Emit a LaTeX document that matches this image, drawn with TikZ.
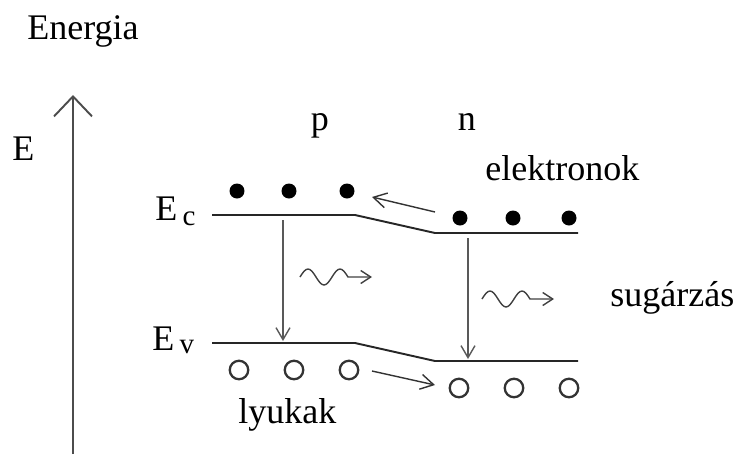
\documentclass[tikz,border=0pt]{standalone}
\usepackage{fontspec}
\setmainfont{Liberation Serif}
\usetikzlibrary{positioning,arrows.meta}

\tikzset{
  level/.style={line width=1.1pt, draw=black!85},
  jump/.style={line width=0.8pt, draw=black!65, -{Straight Barb[length=2.4mm,width=2.8mm]}},
  flow/.style={line width=0.8pt, draw=black!80, -{Straight Barb[length=2.6mm,width=3mm]}},
  photon/.style={line width=0.8pt, draw=black!75, -{Straight Barb[length=2mm,width=2.6mm]}},
  electron/.style={circle, fill=black, inner sep=0pt, minimum size=3mm},
  hole/.style={circle, draw=black!80, line width=1.3pt, inner sep=0pt, minimum size=3.7mm},
  lbl/.style={font=\fontsize{20.5}{24}\selectfont, inner sep=0pt},
}

\begin{document}
\begin{tikzpicture}[x=0.02cm, y=-0.02cm]
    \useasboundingbox (0,0) rectangle (738,454);

    % energy axis
    \node[lbl, anchor=base west] (energia) at (27,39) {Energia};
    \coordinate (axbot) at (73,454);
    \coordinate (axtop) at (73,95);
    \draw[line width=1.1pt, draw=black!70, -{Straight Barb[length=4mm,width=7.6mm]}] (axbot) -- (axtop);
    \node[lbl, anchor=base west] (eaxis) at (12,160) {E};

    % band edges
    \coordinate (ec1) at (212,215);
    \coordinate (ec2) at (355,215);
    \coordinate (ec3) at (435,233);
    \coordinate (ec4) at (578,233);
    \coordinate (ev1) at (212,343);
    \coordinate (ev2) at (355,343);
    \coordinate (ev3) at (435,361);
    \coordinate (ev4) at (578,361);
    \draw[level] (ec1) -- (ec2) -- (ec3) -- (ec4);
    \draw[level] (ev1) -- (ev2) -- (ev3) -- (ev4);

    \node[lbl, anchor=base west] (eclbl) at (155,220) {E\hspace{3pt}\raisebox{-3pt}{\fontsize{16.5}{16}\selectfont c}};
    \node[lbl, anchor=base west] (evlbl) at (152,350) {E\hspace{3pt}\raisebox{-2pt}{\fontsize{16.5}{16}\selectfont v}};

    \node[lbl, anchor=base] (ptype) at (320,130) {p};
    \node[lbl, anchor=base] (ntype) at (467,130) {n};

    % electrons and holes
    \foreach \x [count=\i] in {237,289,347}
        \node[electron] (ep\i) at (\x,191) {};
    \foreach \x [count=\i] in {460,513,569}
        \node[electron] (en\i) at (\x,218) {};
    \foreach \x [count=\i] in {239,294,349}
        \node[hole] (hp\i) at (\x,370) {};
    \foreach \x [count=\i] in {459,514,569}
        \node[hole] (hn\i) at (\x,388) {};

    \node[lbl, anchor=base west] (elek) at (485,180) {elektronok};
    \node[lbl, anchor=base west] (lyuk) at (238,423) {lyukak};
    \node[lbl, anchor=base west] (sug) at (610,306) {sugárzás};

    % diffusion
    \coordinate (ef0) at (435,212);
    \coordinate (ef1) at (372,197);
    \draw[flow] (ef0) -- (ef1);
    \coordinate (hf0) at (372,371);
    \coordinate (hf1) at (435,385);
    \draw[flow] (hf0) -- (hf1);

    % recombination
    \coordinate (jp0) at (283,220);
    \coordinate (jp1) at (283,341);
    \draw[jump] (jp0) -- (jp1);
    \coordinate (jn0) at (468,238);
    \coordinate (jn1) at (468,359);
    \draw[jump] (jn0) -- (jn1);

    % emitted light
    \coordinate (w1) at (300,277);
    \coordinate (w2) at (482,299);
    \foreach \w in {w1,w2}
        \draw[photon] (\w) sin ++(8,-8) cos ++(8,8) sin ++(8,8) cos ++(8,-8)
            sin ++(8,-8) cos ++(8,8) -- ++(24,0);
\end{tikzpicture}
\end{document}
